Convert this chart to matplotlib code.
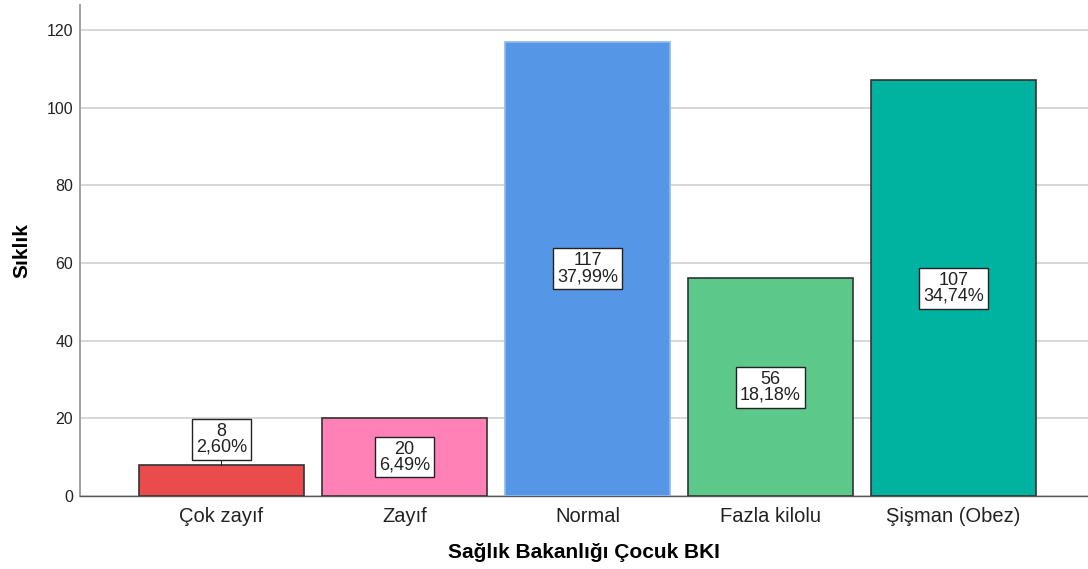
import matplotlib
matplotlib.use("Agg")
import matplotlib.pyplot as plt

categories = ["Çok zayıf", "Zayıf", "Normal", "Fazla kilolu", "Şişman (Obez)"]
counts = [8, 20, 117, 56, 107]
percents = ["2,60%", "6,49%", "37,99%", "18,18%", "34,74%"]
colors = ["#EA4B4C", "#FF81B6", "#5596E6", "#5CC98A", "#00B3A0"]
edges = ["#333333", "#333333", "#8FB8EE", "#333333", "#333333"]
yticks = [0, 20, 40, 60, 80, 100, 120]

plt.rcParams['font.family'] = ['Liberation Sans', 'DejaVu Sans']

W, H = 1088, 569
fig = plt.figure(figsize=(W / 100, H / 100), dpi=100)
ax = fig.add_axes([80 / W, (H - 496) / H, 1008 / W, (496 - 5) / H])

x = list(range(len(categories)))
ax.bar(x, counts, width=0.9, color=colors, edgecolor=edges, linewidth=1.2, zorder=3)

ax.set_xlim(-0.773, 4.735)
ax.set_ylim(0, 126.4)
ax.set_yticks(yticks)
ax.yaxis.grid(True, color="#d4d4d4", linewidth=1.3, zorder=0)
ax.set_axisbelow(True)
ax.set_xticks(x)
ax.set_xticklabels(categories, fontsize=14.5, color="#222222")
ax.tick_params(axis="x", length=0, pad=8)
ax.tick_params(axis="y", length=0, pad=5, labelsize=11.5, labelcolor="#222222")

for s in ["top", "right"]:
    ax.spines[s].set_visible(False)
ax.spines["left"].set_color("#999999")
ax.spines["left"].set_linewidth(1.3)
ax.spines["bottom"].set_color("#555555")
ax.spines["bottom"].set_linewidth(1.0)

ax.set_ylabel("Sıklık", fontsize=15, fontweight="bold", labelpad=11)
ax.set_xlabel("Sağlık Bakanlığı Çocuk BKI", fontsize=15, fontweight="bold", labelpad=12)

bbox = dict(boxstyle="square,pad=0.22", facecolor="white", edgecolor="#222222", linewidth=1.0)
for xi, c, p in zip(x, counts, percents):
    txt = f"{c}\n{p}"
    if c < 15:
        ypos = c + 6.6
        ax.plot([xi, xi], [c, ypos - 5.0], color="#222222", linewidth=0.8, zorder=4)
    else:
        ypos = c / 2
    ax.text(xi, ypos, txt, ha="center", va="center", fontsize=13, color="#222222",
            linespacing=0.9, bbox=bbox, zorder=5)

fig.savefig("out.png", dpi=100)
